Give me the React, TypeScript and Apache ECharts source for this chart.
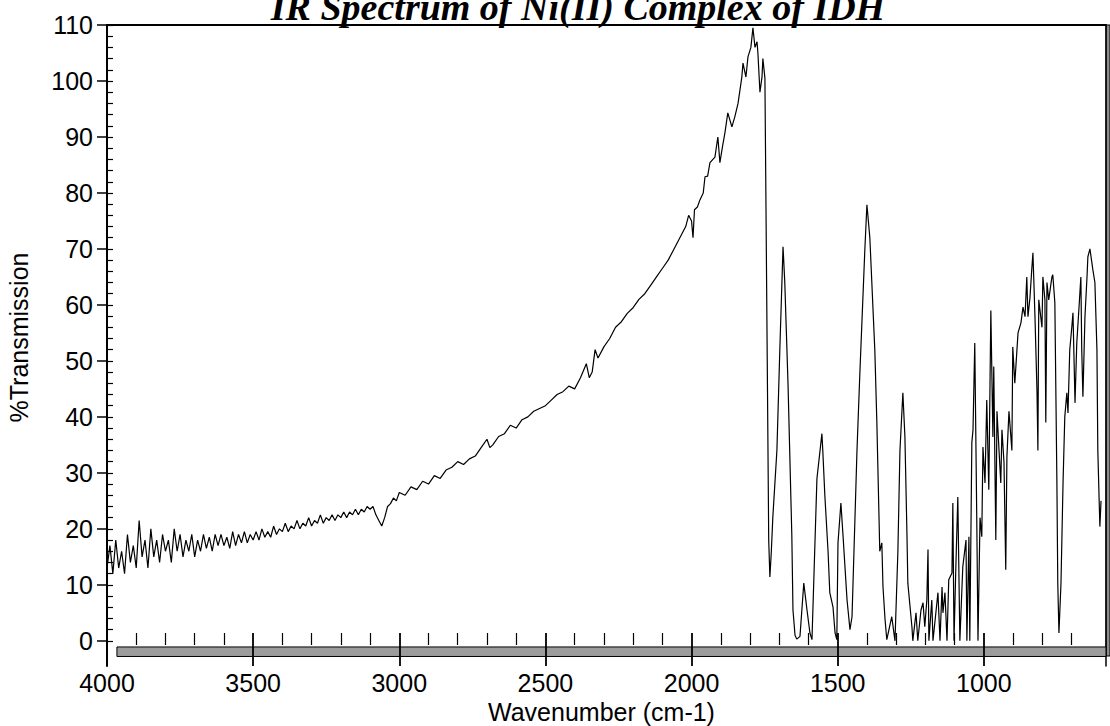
import React, { useEffect, useRef } from "react";
import * as echarts from "echarts";

// ---- Data (wavenumber cm-1, %Transmission) ----
const spectrum4000to3500: [number, number][] = [
  [4000, 13], [3990, 17], [3980, 12], [3970, 18], [3960, 13], [3950, 16], [3940, 12], [3930, 19], [3920, 14], [3910, 17],
  [3900, 13], [3890, 21.5], [3880, 15], [3870, 18], [3860, 13], [3850, 20], [3840, 15], [3830, 18], [3820, 14], [3810, 19],
  [3800, 16], [3790, 18], [3780, 14], [3770, 20], [3760, 16], [3750, 19], [3740, 15], [3730, 18], [3720, 16], [3710, 19],
  [3700, 15], [3690, 18], [3680, 16], [3670, 19], [3660, 16.5], [3650, 18.5], [3640, 16], [3630, 19], [3620, 17], [3610, 19],
  [3600, 17], [3590, 18.5], [3580, 16.5], [3570, 19.5], [3560, 17], [3550, 19], [3540, 17.5], [3530, 19.5], [3520, 17.5], [3510, 19],
  [3500, 18],
];

const spectrum3500to3000: [number, number][] = [
  [3490, 19.5], [3480, 18], [3470, 20], [3460, 18.5], [3450, 19.5], [3440, 18.5], [3430, 20.5], [3420, 19], [3410, 20], [3400, 19.5],
  [3390, 21], [3380, 19.5], [3370, 20.5], [3360, 20], [3350, 21.5], [3340, 20], [3330, 21], [3320, 20.5], [3310, 22], [3300, 20.5],
  [3290, 21.5], [3280, 21], [3270, 22.5], [3260, 21], [3250, 22], [3240, 21.5], [3230, 22.5], [3220, 21.5], [3210, 22.5], [3200, 22],
  [3190, 23], [3180, 22], [3170, 23], [3160, 22.5], [3150, 23.5], [3140, 22.5], [3130, 23.5], [3120, 23], [3110, 24], [3100, 23.5],
  [3090, 24], [3080, 22.5], [3070, 21.5], [3060, 20.5], [3050, 22], [3040, 24], [3030, 24.5], [3020, 25.5], [3010, 25], [3000, 26.5],
];

const spectrum3000to1990: [number, number][] = [
  [2980, 26], [2960, 27.5], [2940, 27], [2920, 28.5], [2900, 28], [2880, 29.5], [2860, 29], [2840, 30.5], [2820, 31], [2800, 32],
  [2780, 31.5], [2760, 32.5], [2740, 33], [2720, 34.5], [2700, 36], [2690, 34.5], [2680, 35], [2660, 36.5], [2640, 37], [2620, 38.5],
  [2600, 38], [2580, 39.5], [2560, 40], [2540, 41], [2520, 41.5], [2500, 42], [2480, 43], [2460, 44], [2440, 44.5], [2420, 45.5],
  [2400, 45], [2380, 47], [2360, 49.5], [2350, 47], [2340, 48], [2330, 52], [2320, 50.5], [2300, 52.5], [2280, 54], [2260, 56],
  [2240, 57], [2220, 58.5], [2200, 59.5], [2180, 61], [2160, 62], [2140, 63.5], [2120, 65], [2100, 66.5], [2080, 68], [2060, 70],
  [2040, 72], [2020, 74], [2010, 76], [2000, 75], [1995, 72], [1990, 77],
];

const spectrum1990to1750: [number, number][] = [
  [1980, 77.5], [1971, 78.8], [1960, 80], [1954, 82.9], [1945, 83], [1937, 85.4], [1920, 86.4], [1910, 90], [1903, 85.4], [1895, 88],
  [1886, 90.7], [1876, 94.3], [1862, 91.8], [1852, 93.6], [1841, 96], [1828, 100.7], [1824, 103.2], [1814, 100.7], [1807, 104.3], [1797, 106],
  [1790, 109.5], [1783, 106], [1776, 107], [1773, 105], [1766, 98], [1759, 100.7], [1756, 104], [1749, 100.5],
];

const spectrum1750to1240: [number, number][] = [
  [1741, 50], [1736, 18], [1732, 11.4], [1727, 16], [1722, 22], [1708, 34], [1698, 52], [1687, 70.4], [1681, 64], [1670, 46],
  [1657, 19], [1653, 5.5], [1646, 1], [1640, 0.3], [1629, 0.8], [1616, 10.3], [1605, 5.5], [1595, 1.4], [1588, 0.2], [1571, 29],
  [1554, 37], [1551, 34], [1544, 26], [1533, 16], [1527, 8.6], [1516, 6], [1509, 1.4], [1503, 0.2], [1499, 17.5], [1489, 24.6],
  [1482, 19], [1468, 7.3], [1458, 2], [1451, 4.3], [1434, 34], [1424, 48], [1407, 70], [1400, 77.9], [1390, 72], [1373, 52],
  [1366, 39], [1356, 16], [1349, 17.5], [1345, 9.6], [1338, 3.8], [1332, 0.2], [1315, 4.3], [1304, 0], [1294, 16], [1287, 34],
  [1277, 44.3], [1270, 36.4], [1263, 19], [1260, 10.3], [1246, 2.5], [1243, 0],
];

const spectrum1240to580: [number, number][] = [
  [1232, 5], [1226, 0], [1215, 5.5], [1208, 6.8], [1202, 2.5], [1195, 7.3], [1191, 16.3], [1188, 0], [1178, 7.3], [1174, 0],
  [1157, 8.6], [1150, 0], [1143, 9.6], [1140, 5], [1133, 8.6], [1126, 0], [1120, 10.9], [1109, 12.1], [1106, 24.6], [1102, 0],
  [1096, 12.7], [1089, 25.7], [1082, 0], [1072, 13.2], [1061, 18], [1058, 0], [1051, 18.6], [1048, 0], [1041, 35.4], [1037, 37.7],
  [1031, 53.2], [1024, 21], [1020, 0], [1013, 22], [1007, 18.6], [1003, 34.6], [996, 28.2], [990, 43], [983, 27], [976, 59],
  [969, 36.4], [966, 49], [959, 18], [955, 41], [948, 34], [942, 28.2], [938, 37.7], [931, 31.8], [925, 12.7], [921, 32.9],
  [914, 41], [904, 34], [901, 52.5], [894, 46], [883, 55], [873, 56.8], [866, 59.6], [859, 57.9], [853, 65], [849, 57.9],
  [842, 61.4], [836, 66.3], [832, 69.3], [825, 57.9], [818, 44.3], [815, 34], [812, 60.9], [801, 56], [798, 65], [791, 60.9],
  [788, 39], [784, 64], [778, 60.9], [767, 65], [764, 65.4], [757, 60.4], [750, 28.2], [747, 10.3], [743, 1.4], [736, 10.3],
  [729, 28.2], [723, 40], [716, 44.3], [712, 40.7], [706, 52], [699, 56], [695, 58.6], [688, 42.5], [682, 53.2], [675, 59],
  [668, 65], [665, 52], [661, 43.6], [654, 57.9], [647, 65], [644, 68.6], [637, 70], [627, 66.3], [620, 64], [613, 52],
  [610, 34], [603, 20.4], [599, 25],
];

// ---- Axis ticks / labels ----
const xMin = 582;
const xMax = 4000;
const xMajorTicks = [4000, 3500, 3000, 2500, 2000, 1500, 1000];
const xMinorTicks = [
  3900, 3800, 3700, 3600, 3400, 3300, 3200, 3100, 2900, 2800, 2700, 2600, 2400, 2300, 2200, 2100,
  1900, 1800, 1700, 1600, 1400, 1300, 1200, 1100, 900, 800, 700,
];
const yMin = -4.5;
const yMax = 110;
const yMajorTicks = [0, 10, 20, 30, 40, 50, 60, 70, 80, 90, 100, 110];
const yMinorTicks = [
  0, 2, 4, 6, 8, 10, 12, 14, 16, 18, 20, 22, 24, 26, 28, 30, 32, 34, 36, 38, 40, 42, 44, 46, 48, 50,
  52, 54, 56, 58, 60, 62, 64, 66, 68, 70, 72, 74, 76, 78, 80, 82, 84, 86, 88, 90, 92, 94, 96, 98, 100,
  102, 104, 106, 108, 110,
];
// baseline band below the zero line (wavenumber range and %T range)
const bandStartWn = 3966;
const bandTop = -1.1;
const bandBottom = -2.8;

const TITLE = "IR Spectrum of Ni(II) Complex of IDH";
const FONT = "'Liberation Sans', Arial, sans-serif";

export default function App() {
  const ref = useRef<HTMLDivElement>(null);

  useEffect(() => {
    if (!ref.current) return;
    const chart = echarts.init(ref.current, undefined, { renderer: "svg" });
    const data = [
      ...spectrum4000to3500,
      ...spectrum3500to3000,
      ...spectrum3000to1990,
      ...spectrum1990to1750,
      ...spectrum1750to1240,
      ...spectrum1240to580,
    ];
    const black = "#000";
    const plainNumber = (v: number) => String(v);
    chart.setOption({
      animation: false,
      backgroundColor: "#fff",
      textStyle: { fontFamily: FONT },
      grid: {
        left: 107,
        right: 4,
        top: 25,
        bottom: 60,
        containLabel: false,
        outerBoundsMode: "none",
      },
      graphic: [
        {
          type: "text",
          x: 578,
          y: 7,
          style: {
            text: TITLE,
            fill: black,
            font: "italic bold 38px 'Liberation Serif', 'Times New Roman', serif",
            textAlign: "center",
            textVerticalAlign: "middle",
          },
        },
        {
          type: "rect",
          shape: { x: 1106, y: 25, width: 4, height: 631 },
          style: { fill: "#8c8c8c", stroke: black, lineWidth: 1 },
        },
      ],
      xAxis: [
        {
          type: "value",
          inverse: true,
          min: xMin,
          max: xMax,
          position: "bottom",
          z: 10,
          name: "Wavenumber (cm-1)",
          nameLocation: "middle",
          nameGap: 19,
          nameTextStyle: { fontSize: 25, color: black, fontFamily: FONT, padding: [0, 10, 0, 0] },
          axisLine: { show: false, onZero: false },
          axisTick: {
            show: true,
            inside: true,
            length: 33,
            customValues: xMajorTicks,
            lineStyle: { color: black, width: 1.8 },
          },
          axisLabel: {
            show: true,
            customValues: xMajorTicks,
            formatter: plainNumber,
            fontSize: 25,
            color: black,
            margin: 4,
            fontFamily: FONT,
          },
          splitLine: { show: false },
        },
        {
          type: "value",
          inverse: true,
          min: xMin,
          max: xMax,
          position: "bottom",
          offset: -21,
          axisLine: { show: false, onZero: false },
          axisTick: {
            show: true,
            inside: true,
            length: 12,
            customValues: xMinorTicks,
            lineStyle: { color: black, width: 1.2 },
          },
          axisLabel: { show: false },
          splitLine: { show: false },
        },
        {
          type: "value",
          inverse: true,
          min: xMin,
          max: xMax,
          position: "top",
          axisLine: { show: true, onZero: false, lineStyle: { color: black, width: 2 } },
          axisTick: { show: false },
          axisLabel: { show: false },
          splitLine: { show: false },
        },
      ],
      yAxis: [
        {
          type: "value",
          min: yMin,
          max: yMax,
          position: "left",
          z: 10,
          name: "%Transmission",
          nameLocation: "middle",
          nameGap: 76,
          nameRotate: 90,
          nameTextStyle: { fontSize: 25, color: black, fontFamily: FONT, padding: [0, 0, 0, 16] },
          axisLine: { show: true, onZero: false, lineStyle: { color: black, width: 2 } },
          axisTick: {
            show: true,
            inside: false,
            length: 10,
            customValues: yMajorTicks,
            lineStyle: { color: black, width: 1.5 },
          },
          axisLabel: {
            show: true,
            customValues: yMajorTicks,
            formatter: plainNumber,
            fontSize: 25,
            color: black,
            margin: 14,
            fontFamily: FONT,
          },
          splitLine: { show: false },
        },
        {
          type: "value",
          min: yMin,
          max: yMax,
          position: "left",
          axisLine: { show: false, onZero: false },
          axisTick: {
            show: true,
            inside: true,
            length: 6,
            customValues: yMinorTicks,
            lineStyle: { color: black, width: 1.2 },
          },
          axisLabel: { show: false },
          splitLine: { show: false },
        },
        {
          type: "value",
          min: yMin,
          max: yMax,
          position: "right",
          axisLine: { show: true, onZero: false, lineStyle: { color: black, width: 1.5 } },
          axisTick: { show: false },
          axisLabel: { show: false },
          splitLine: { show: false },
        },
      ],
      series: [
        {
          type: "line",
          xAxisIndex: 0,
          yAxisIndex: 0,
          data,
          showSymbol: false,
          symbol: "none",
          clip: true,
          lineStyle: { color: black, width: 1.2 },
          markArea: {
            silent: true,
            itemStyle: { color: "#9c9c9c", borderColor: black, borderWidth: 1 },
            data: [[{ coord: [bandStartWn, bandTop] }, { coord: [xMin, bandBottom] }]],
          },
        },
      ],
    });
    return () => chart.dispose();
  }, []);

  return (
    <div
      ref={ref}
      style={{ position: "absolute", left: 0, top: 0, width: 1110, height: 726, background: "#fff" }}
    />
  );
}
